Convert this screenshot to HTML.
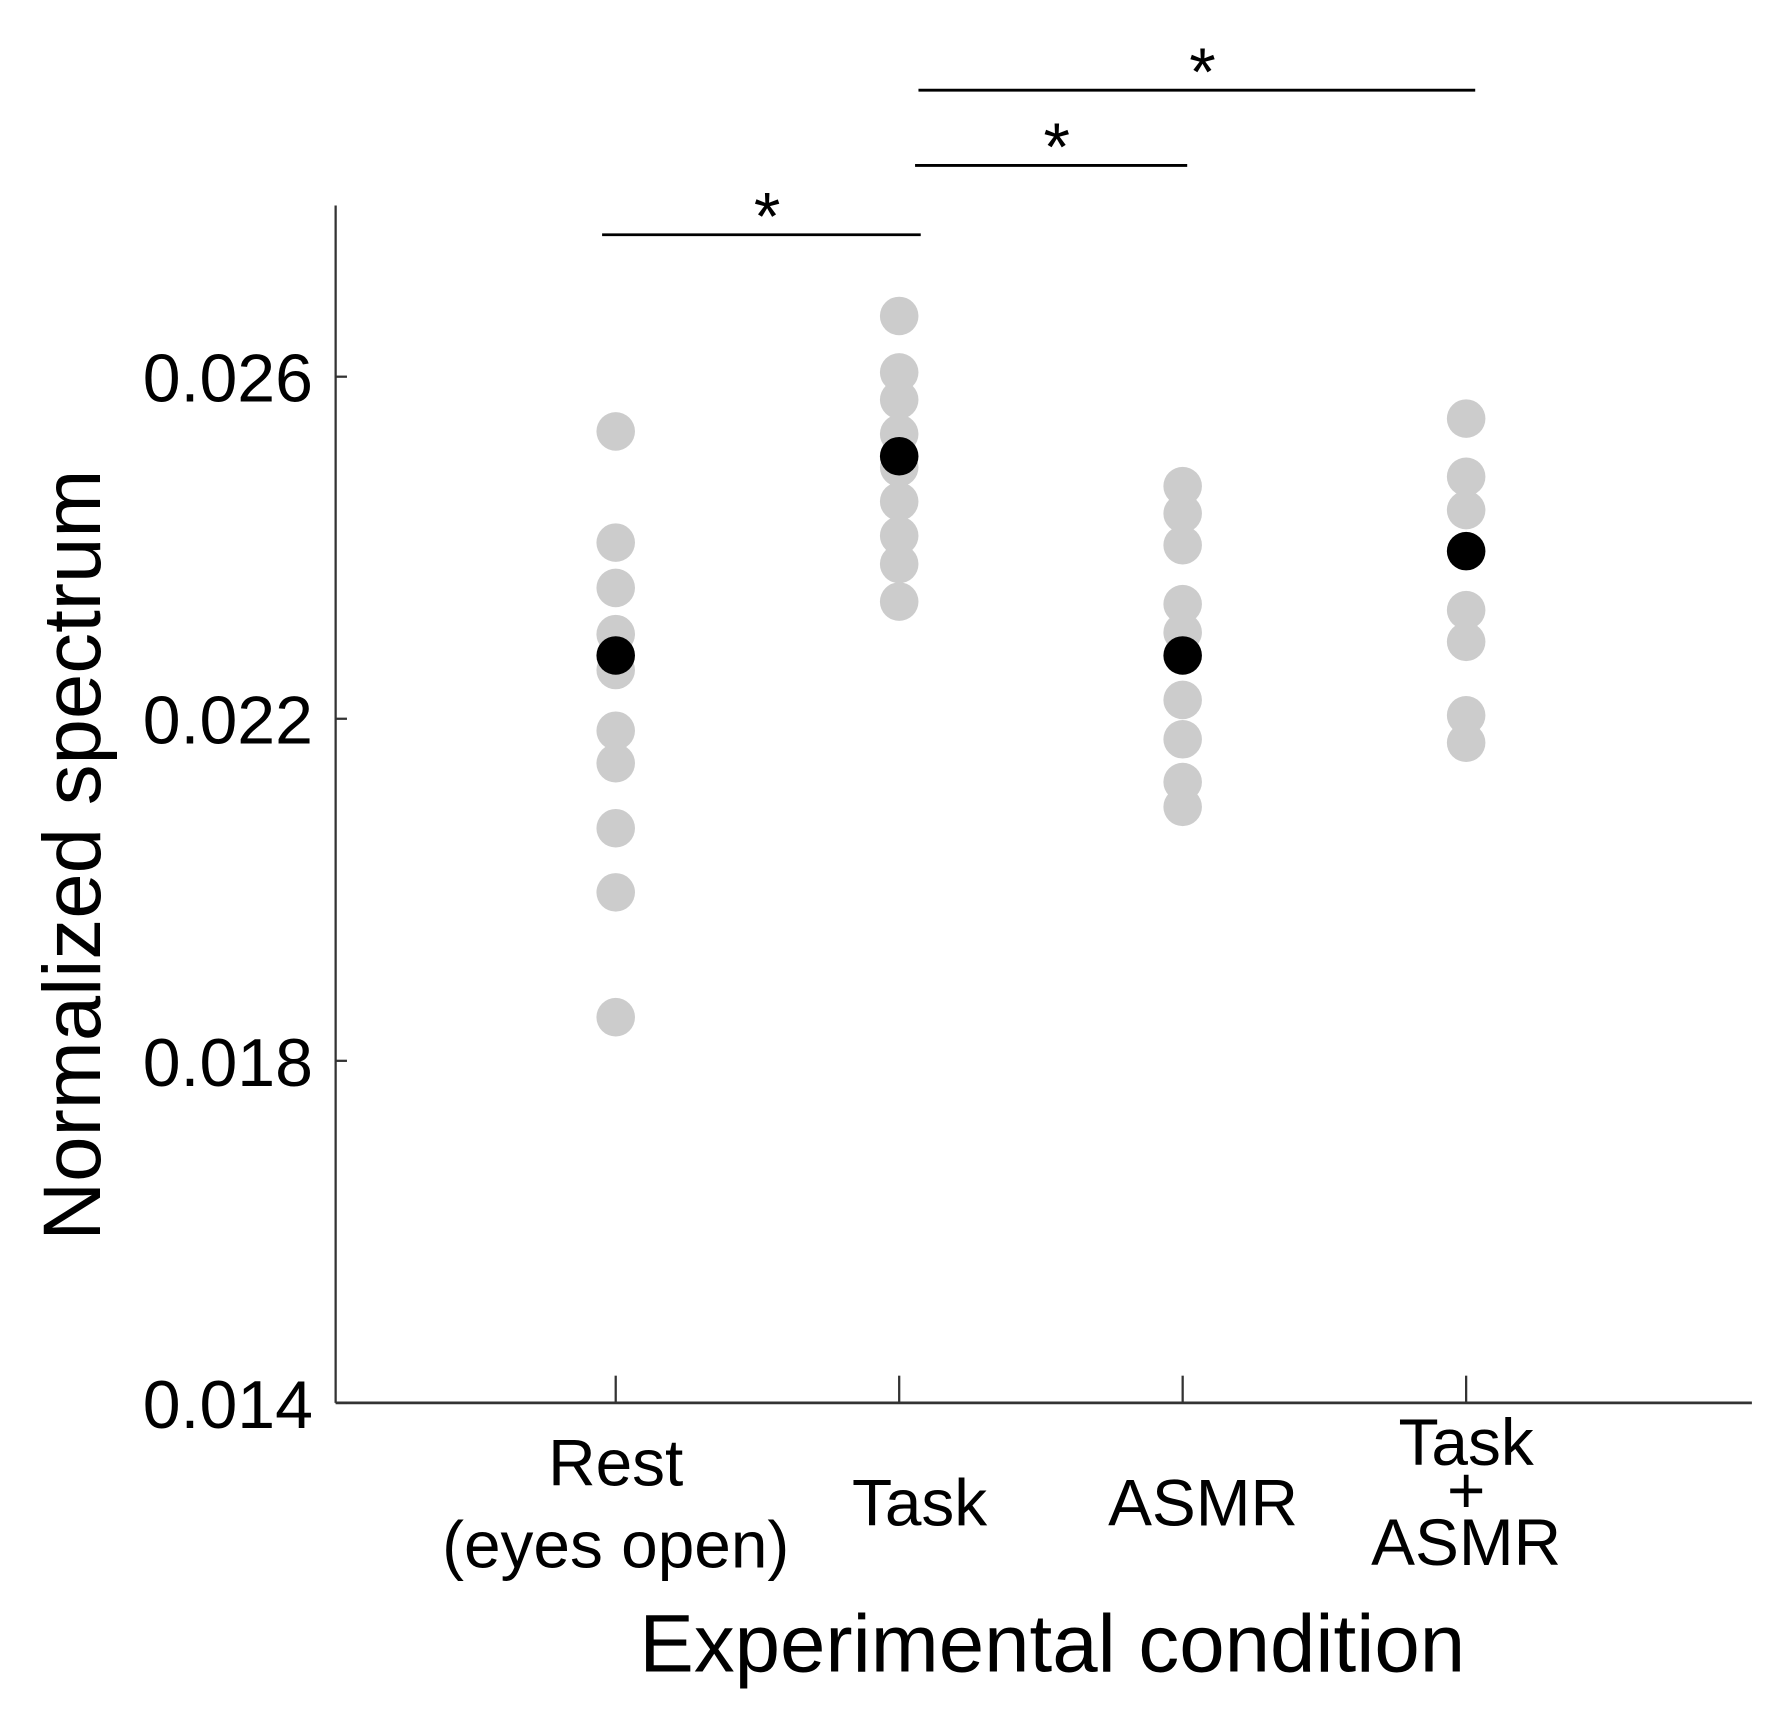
<!DOCTYPE html>
<html><head><meta charset="utf-8"><style>html,body{margin:0;padding:0;background:#fff}svg{display:block}</style></head>
<body>
<svg width="1776" height="1715" viewBox="0 0 1560 1506" xmlns="http://www.w3.org/2000/svg" font-family="Liberation Sans, Arial, sans-serif">
<g id="root" transform="scale(0.996)"></g>
<script>
const categories = ["Rest|(eyes open)", "Task", "ASMR", "Task|+|ASMR"];
const restVals = [0.02536,0.02406,0.02353,0.02299,0.02257,0.02186,0.02148,0.02072,0.01997,0.01851];
const taskVals = [0.02671,0.02605,0.02573,0.02533,0.02494,0.02454,0.02414,0.02381,0.02337];
const asmrVals = [0.02472,0.0244,0.02403,0.02334,0.02301,0.02222,0.02176,0.02126,0.02097];
const taskAsmrVals = [0.02551,0.02483,0.02444,0.02327,0.0229,0.02204,0.02172];
const meanVals = [0.02274,0.02507,0.02274,0.02396];
const yTicks = [0.014,0.018,0.022,0.026];
const sigPairs = [[0,1,0.02766],[1,2,0.02847],[1,3,0.02935]];

const NS="http://www.w3.org/2000/svg";
const root=document.getElementById('root');
const X0=296,X1=1545,YB=1237,YT=181;
function y(v){return YB-(v-0.014)/0.012*905;}
function x(i){return 543+i*250;}
function mk(t,a){const e=document.createElementNS(NS,t);for(const k in a)e.setAttribute(k,a[k]);root.appendChild(e);return e;}

let e=mk('line',{x1:X0,y1:YT,x2:X0,y2:YB,stroke:'#333','stroke-width':2});


e=mk('line',{x1:X0,y1:YB,x2:X1,y2:YB,stroke:'#333','stroke-width':2.5});



yTicks.forEach(v=>{
  let t=mk('line',{x1:X0,y1:y(v),x2:X0+10,y2:y(v),stroke:'#333','stroke-width':2});
  
  
  let l=mk('text',{x:276,y:y(v)+22,'text-anchor':'end','font-size':60,fill:'#000'});
  l.textContent=v.toFixed(3);
  
  
});

categories.forEach((c,i)=>{
  let t=mk('line',{x1:x(i),y1:YB-24,x2:x(i),y2:YB,stroke:'#333','stroke-width':2});
  
  
  const parts=c.split('|');
  let ys = parts.length===1?[1345]:parts.length===2?[1310,1382]:[1292,1342,1380];
  parts.forEach((p,j)=>{
    let l=mk('text',{x:x(i)+(parts.length===1?18:0),y:ys[j]+(p==='+'?-8:0),'text-anchor':'middle','font-size':58,fill:'#000'});
    l.textContent=p;
    
    
  });
});

[restVals,taskVals,asmrVals,taskAsmrVals].forEach((arr,i)=>{
  arr.forEach(v=>{
    let c=mk('circle',{cx:x(i),cy:y(v),r:17,fill:'#cccccc'});
    
    
  });
});
meanVals.forEach((v,i)=>{
  let c=mk('circle',{cx:x(i),cy:y(v),r:17,fill:'#000'});
  
  
});

const barOff=[[-12,19],[14,4],[17,8]];
sigPairs.forEach((p,k)=>{
  const a=x(p[0])+barOff[k][0], b=x(p[1])+barOff[k][1], yy=y(p[2]);
  let l=mk('line',{x1:a,y1:yy,x2:b,y2:yy,stroke:'#000','stroke-width':2.5});
  
  
  let s=mk('text',{x:(a+b)/2+5,y:yy+4,'text-anchor':'middle','font-size':60,fill:'#000'});
  s.textContent='*';
  
  
});

let yt=mk('text',{x:0,y:0,'text-anchor':'middle','font-size':72,fill:'#000',transform:'translate(88,754) rotate(-90)'});
yt.textContent='Normalized spectrum';


let xt=mk('text',{x:928,y:1474,'text-anchor':'middle','font-size':72,fill:'#000'});
xt.textContent='Experimental condition';


</script>
</svg>
</body></html>
